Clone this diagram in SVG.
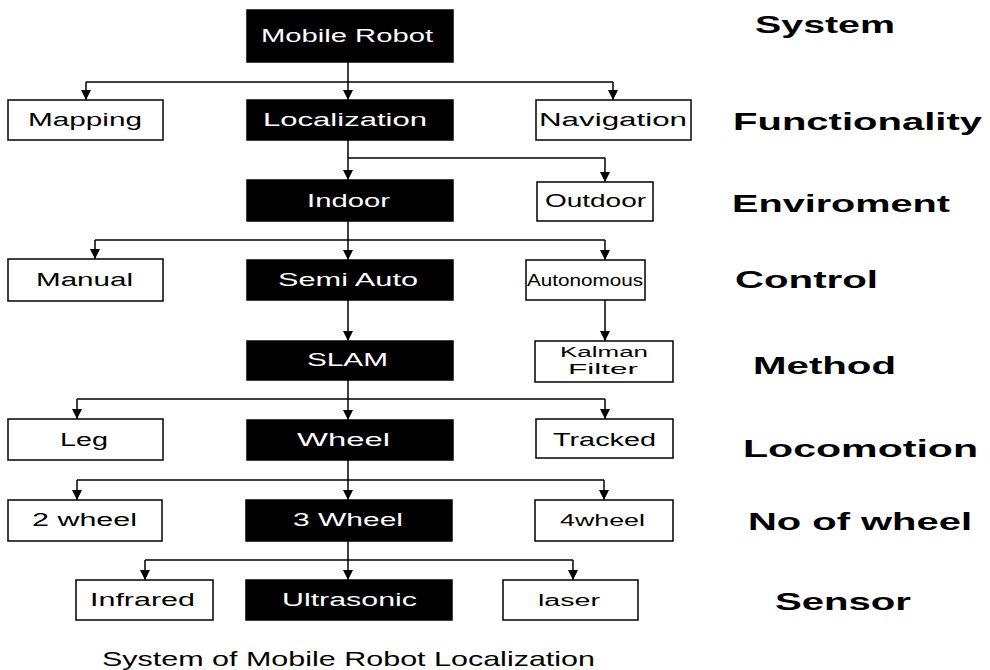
<svg xmlns="http://www.w3.org/2000/svg" width="990" height="670" viewBox="0 0 990 670">
<style>
.bk{fill:#000;stroke:#000;stroke-width:1.5}
.wb{fill:#fff;stroke:#000;stroke-width:1.5}
.tw{font-family:"Liberation Sans",Arial,sans-serif;font-size:18px;fill:#fff}
.tb{font-family:"Liberation Sans",Arial,sans-serif;font-size:18px;fill:#000}
.ts{font-family:"Liberation Sans",Arial,sans-serif;font-size:14px;fill:#000}
.tm{font-family:"Liberation Sans",Arial,sans-serif;font-size:16px;fill:#000}
.lb{font-family:"Liberation Sans",Arial,sans-serif;font-size:23px;font-weight:bold;fill:#000}
.cap{font-family:"Liberation Sans",Arial,sans-serif;font-size:21px;fill:#000}
.cn line{stroke:#000;stroke-width:1.5;fill:none}
</style>
<defs>
<marker id="ah" markerUnits="userSpaceOnUse" markerWidth="10" markerHeight="10" viewBox="0 0 10 10" refX="10" refY="5" orient="auto">
<path d="M0,0 L10,5 L0,10 z" fill="#000"/>
</marker>
</defs>

<g id="connectors" class="cn">
<line x1="348" y1="62" x2="348" y2="100" marker-end="url(#ah)"/>
<line x1="86" y1="82" x2="613" y2="82"/>
<line x1="86" y1="82" x2="86" y2="100" marker-end="url(#ah)"/>
<line x1="613" y1="82" x2="613" y2="100" marker-end="url(#ah)"/>
<line x1="348" y1="140" x2="348" y2="180" marker-end="url(#ah)"/>
<line x1="348" y1="158" x2="605" y2="158"/>
<line x1="605" y1="158" x2="605" y2="182" marker-end="url(#ah)"/>
<line x1="348" y1="221" x2="348" y2="260" marker-end="url(#ah)"/>
<line x1="95" y1="240" x2="605" y2="240"/>
<line x1="95" y1="240" x2="95" y2="259" marker-end="url(#ah)"/>
<line x1="605" y1="240" x2="605" y2="260" marker-end="url(#ah)"/>
<line x1="605" y1="300" x2="605" y2="341" marker-end="url(#ah)"/>
<line x1="348" y1="300" x2="348" y2="341" marker-end="url(#ah)"/>
<line x1="348" y1="380" x2="348" y2="420" marker-end="url(#ah)"/>
<line x1="77" y1="399" x2="605" y2="399"/>
<line x1="77" y1="399" x2="77" y2="419" marker-end="url(#ah)"/>
<line x1="605" y1="399" x2="605" y2="419" marker-end="url(#ah)"/>
<line x1="348" y1="460" x2="348" y2="500" marker-end="url(#ah)"/>
<line x1="77" y1="480" x2="604" y2="480"/>
<line x1="77" y1="480" x2="77" y2="500" marker-end="url(#ah)"/>
<line x1="604" y1="480" x2="604" y2="500" marker-end="url(#ah)"/>
<line x1="348" y1="541" x2="348" y2="580" marker-end="url(#ah)"/>
<line x1="145" y1="560" x2="573" y2="560"/>
<line x1="145" y1="560" x2="145" y2="580" marker-end="url(#ah)"/>
<line x1="573" y1="560" x2="573" y2="580" marker-end="url(#ah)"/>
</g>

<g id="mobile-robot"><rect class="bk" x="247" y="10" width="206" height="52"/><text class="tw" x="261" y="42" textLength="172" lengthAdjust="spacingAndGlyphs">Mobile Robot</text></g>
<g id="mapping"><rect class="wb" x="8" y="100" width="155" height="40"/><text class="tb" x="28" y="126" textLength="114" lengthAdjust="spacingAndGlyphs">Mapping</text></g>
<g id="localization"><rect class="bk" x="247" y="100" width="206" height="40"/><text class="tw" x="263" y="126" textLength="164" lengthAdjust="spacingAndGlyphs">Localization</text></g>
<g id="navigation"><rect class="wb" x="536" y="100" width="155" height="40"/><text class="tb" x="539" y="126" textLength="148" lengthAdjust="spacingAndGlyphs">Navigation</text></g>

<g id="indoor"><rect class="bk" x="247" y="180" width="206" height="41"/><text class="tw" x="307" y="207" textLength="83" lengthAdjust="spacingAndGlyphs">Indoor</text></g>
<g id="outdoor"><rect class="wb" x="537" y="182" width="116" height="39"/><text class="tb" x="545" y="207" textLength="101" lengthAdjust="spacingAndGlyphs">Outdoor</text></g>

<g id="manual"><rect class="wb" x="8" y="259" width="155" height="42"/><text class="tb" x="36" y="286" textLength="97" lengthAdjust="spacingAndGlyphs">Manual</text></g>
<g id="semi-auto"><rect class="bk" x="247" y="260" width="206" height="40"/><text class="tw" x="278" y="286" textLength="140" lengthAdjust="spacingAndGlyphs">Semi Auto</text></g>
<g id="autonomous"><rect class="wb" x="526" y="260" width="119" height="40"/><text class="tm" x="527" y="286" textLength="116" lengthAdjust="spacingAndGlyphs">Autonomous</text></g>

<g id="slam"><rect class="bk" x="247" y="341" width="206" height="39"/><text class="tw" x="307" y="366" textLength="81" lengthAdjust="spacingAndGlyphs">SLAM</text></g>
<g id="kalman-filter"><rect class="wb" x="535" y="341" width="138" height="41"/><text class="ts" x="560" y="357" textLength="88" lengthAdjust="spacingAndGlyphs">Kalman</text><text class="ts" x="568" y="374" textLength="70" lengthAdjust="spacingAndGlyphs">Filter</text></g>

<g id="leg"><rect class="wb" x="8" y="419" width="155" height="41"/><text class="tb" x="60" y="446" textLength="48" lengthAdjust="spacingAndGlyphs">Leg</text></g>
<g id="wheel"><rect class="bk" x="247" y="420" width="206" height="40"/><text class="tw" x="297" y="446" textLength="93" lengthAdjust="spacingAndGlyphs">Wheel</text></g>
<g id="tracked"><rect class="wb" x="536" y="419" width="137" height="39"/><text class="tb" x="553" y="446" textLength="103" lengthAdjust="spacingAndGlyphs">Tracked</text></g>

<g id="two-wheel"><rect class="wb" x="8" y="500" width="154" height="41"/><text class="tb" x="32" y="526" textLength="105" lengthAdjust="spacingAndGlyphs">2 wheel</text></g>
<g id="three-wheel"><rect class="bk" x="246" y="500" width="206" height="41"/><text class="tw" x="293" y="526" textLength="110" lengthAdjust="spacingAndGlyphs">3 Wheel</text></g>
<g id="four-wheel"><rect class="wb" x="535" y="500" width="138" height="41"/><text class="tm" x="560" y="526" textLength="85" lengthAdjust="spacingAndGlyphs">4wheel</text></g>

<g id="infrared"><rect class="wb" x="76" y="580" width="137" height="40"/><text class="tb" x="90" y="606" textLength="105" lengthAdjust="spacingAndGlyphs">Infrared</text></g>
<g id="ultrasonic"><rect class="bk" x="246" y="580" width="206" height="40"/><text class="tw" x="282" y="606" textLength="135" lengthAdjust="spacingAndGlyphs">Ultrasonic</text></g>
<g id="laser"><rect class="wb" x="503" y="580" width="135" height="40"/><text class="tm" x="538" y="606" textLength="62" lengthAdjust="spacingAndGlyphs">laser</text></g>

<g id="labels">
<text class="lb" x="755" y="33" textLength="140" lengthAdjust="spacingAndGlyphs">System</text>
<text class="lb" x="733" y="130" textLength="249" lengthAdjust="spacingAndGlyphs">Functionality</text>
<text class="lb" x="732" y="212" textLength="218" lengthAdjust="spacingAndGlyphs">Enviroment</text>
<text class="lb" x="735" y="288" textLength="143" lengthAdjust="spacingAndGlyphs">Control</text>
<text class="lb" x="753" y="374" textLength="143" lengthAdjust="spacingAndGlyphs">Method</text>
<text class="lb" x="743" y="457" textLength="235" lengthAdjust="spacingAndGlyphs">Locomotion</text>
<text class="lb" x="748" y="530" textLength="224" lengthAdjust="spacingAndGlyphs">No of wheel</text>
<text class="lb" x="775" y="610" textLength="136" lengthAdjust="spacingAndGlyphs">Sensor</text>
</g>

<text id="caption" class="cap" x="102" y="666" textLength="493" lengthAdjust="spacingAndGlyphs">System of Mobile Robot Localization</text>
</svg>
